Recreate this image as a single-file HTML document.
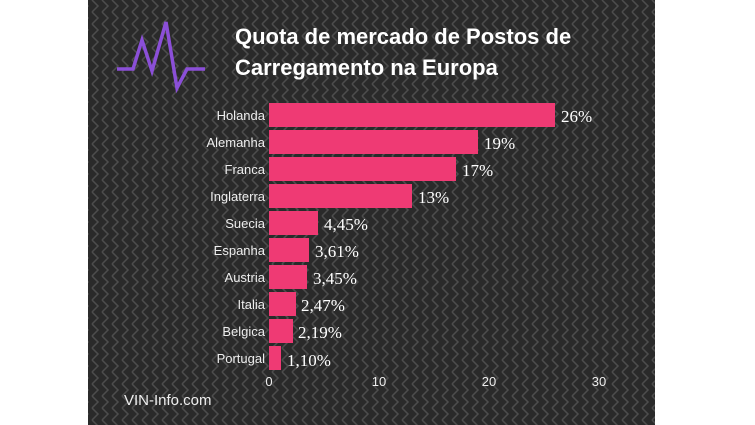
<!DOCTYPE html>
<html><head><meta charset="utf-8"><style>
html,body{margin:0;padding:0;background:#fff;}
</style></head><body>
<svg width="755" height="425" xmlns="http://www.w3.org/2000/svg" style="display:block">
<defs>
<pattern id="zz" width="10" height="12" patternUnits="userSpaceOnUse">
<polyline points="2,0 8,6 2,12" fill="none" stroke="#4d4d4d" stroke-width="1.5"/>
</pattern>
</defs>
<rect x="88" y="0" width="567" height="425" fill="#2a2a2a"/>
<rect x="88" y="0" width="567" height="425" fill="url(#zz)"/>
<polyline points="117,69 133,69 142,40 152,71 166,22 177,88 187,69 205,69" fill="none" stroke="#8b4fd8" stroke-width="3.5" stroke-linejoin="miter"/>
<g font-family="Liberation Sans, sans-serif" font-weight="bold" font-size="22" fill="#fff">
<text x="235" y="44">Quota de mercado de Postos de</text>
<text x="235" y="75">Carregamento na Europa</text>
</g>
<g fill="#ef3a74">
<rect x="269" y="103" width="286" height="24"/>
<rect x="269" y="130" width="209" height="24"/>
<rect x="269" y="157" width="187" height="24"/>
<rect x="269" y="184" width="143" height="24"/>
<rect x="269" y="211" width="49" height="24"/>
<rect x="269" y="238" width="40" height="24"/>
<rect x="269" y="265" width="38" height="24"/>
<rect x="269" y="292" width="27" height="24"/>
<rect x="269" y="319" width="24" height="24"/>
<rect x="269" y="346" width="12" height="24"/>
</g>
<g font-family="Liberation Sans, sans-serif" font-size="13" fill="#eee" text-anchor="end">
<text x="265" y="120">Holanda</text>
<text x="265" y="147">Alemanha</text>
<text x="265" y="174">Franca</text>
<text x="265" y="201">Inglaterra</text>
<text x="265" y="228">Suecia</text>
<text x="265" y="255">Espanha</text>
<text x="265" y="282">Austria</text>
<text x="265" y="309">Italia</text>
<text x="265" y="336">Belgica</text>
<text x="265" y="363">Portugal</text>
</g>
<g font-family="Liberation Serif, serif" font-size="17" fill="#fff">
<text x="561" y="122">26%</text>
<text x="484" y="149">19%</text>
<text x="462" y="176">17%</text>
<text x="418" y="203">13%</text>
<text x="324" y="230">4,45%</text>
<text x="315" y="257">3,61%</text>
<text x="313" y="284">3,45%</text>
<text x="301" y="311">2,47%</text>
<text x="298" y="338">2,19%</text>
<text x="287" y="366">1,10%</text>
</g>
<g font-family="Liberation Sans, sans-serif" font-size="13" fill="#eee" text-anchor="middle">
<text x="269" y="386">0</text>
<text x="379" y="386">10</text>
<text x="489" y="386">20</text>
<text x="599" y="386">30</text>
</g>
<text x="124" y="405" font-family="Liberation Sans, sans-serif" font-size="15" fill="#eee">VIN-Info.com</text>
</svg>
</body></html>
